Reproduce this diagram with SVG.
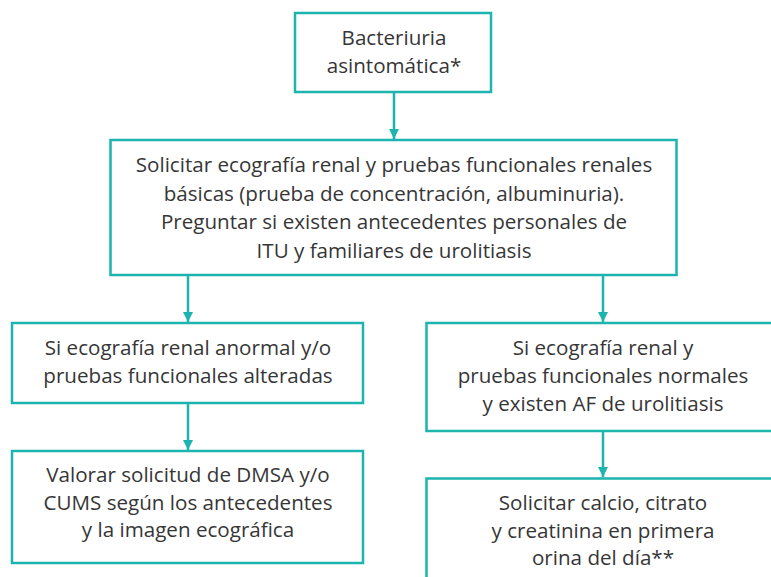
<svg xmlns="http://www.w3.org/2000/svg" width="771" height="577" viewBox="0 0 771 577">
<style>
.box{fill:#fff;stroke:#1db4af;stroke-width:2.5}
.t{font-family:"Open Sans","Liberation Sans",sans-serif;font-size:20.6px;fill:#363636;text-anchor:middle}
.c{stroke:#1db4af;stroke-width:2.5;fill:none}
</style>
<defs>
<marker id="ah2" markerUnits="userSpaceOnUse" markerWidth="12" markerHeight="12" viewBox="0 0 12 12" refX="11" refY="6" orient="auto">
<path d="M1,1 L11,6 L1,11 Z" fill="#1db4af"/>
</marker>
</defs>
<rect width="771" height="577" fill="#fff"/>
<g id="connectors">
<line class="c" x1="394" y1="92" x2="394" y2="139" marker-end="url(#ah2)"/>
<line class="c" x1="188" y1="275" x2="188" y2="322" marker-end="url(#ah2)"/>
<line class="c" x1="603" y1="275" x2="603" y2="322" marker-end="url(#ah2)"/>
<line class="c" x1="188" y1="403" x2="188" y2="450" marker-end="url(#ah2)"/>
<line class="c" x1="603" y1="431" x2="603" y2="477" marker-end="url(#ah2)"/>
</g>
<g id="n1">
<rect class="box" x="295" y="13" width="196" height="79"/>
<text class="t" x="394" y="45">Bacteriuria</text>
<text class="t" x="394" y="73">asintomática*</text>
</g>
<g id="n2">
<rect class="box" x="110.5" y="140" width="566" height="135"/>
<text class="t" x="394" y="172">Solicitar ecografía renal y pruebas funcionales renales</text>
<text class="t" x="394" y="200.5">básicas (prueba de concentración, albuminuria).</text>
<text class="t" x="394" y="229">Preguntar si existen antecedentes personales de</text>
<text class="t" x="394" y="257.5">ITU y familiares de urolitiasis</text>
</g>
<g id="n3">
<rect class="box" x="12" y="323" width="351" height="80"/>
<text class="t" x="188" y="355">Si ecografía renal anormal y/o</text>
<text class="t" x="188" y="383">pruebas funcionales alteradas</text>
</g>
<g id="n4">
<rect class="box" x="426.5" y="323" width="352" height="108"/>
<text class="t" x="603" y="355">Si ecografía renal y</text>
<text class="t" x="603" y="383">pruebas funcionales normales</text>
<text class="t" x="603" y="410.5">y existen AF de urolitiasis</text>
</g>
<g id="n5">
<rect class="box" x="12" y="451" width="351" height="112"/>
<text class="t" x="188" y="482">Valorar solicitud de DMSA y/o</text>
<text class="t" x="188" y="510">CUMS según los antecedentes</text>
<text class="t" x="188" y="537">y la imagen ecográfica</text>
</g>
<g id="n6">
<rect class="box" x="426.5" y="478.5" width="352" height="120"/>
<text class="t" x="603" y="510">Solicitar calcio, citrato</text>
<text class="t" x="603" y="538">y creatinina en primera</text>
<text class="t" x="603" y="565">orina del día**</text>
</g>
</svg>
